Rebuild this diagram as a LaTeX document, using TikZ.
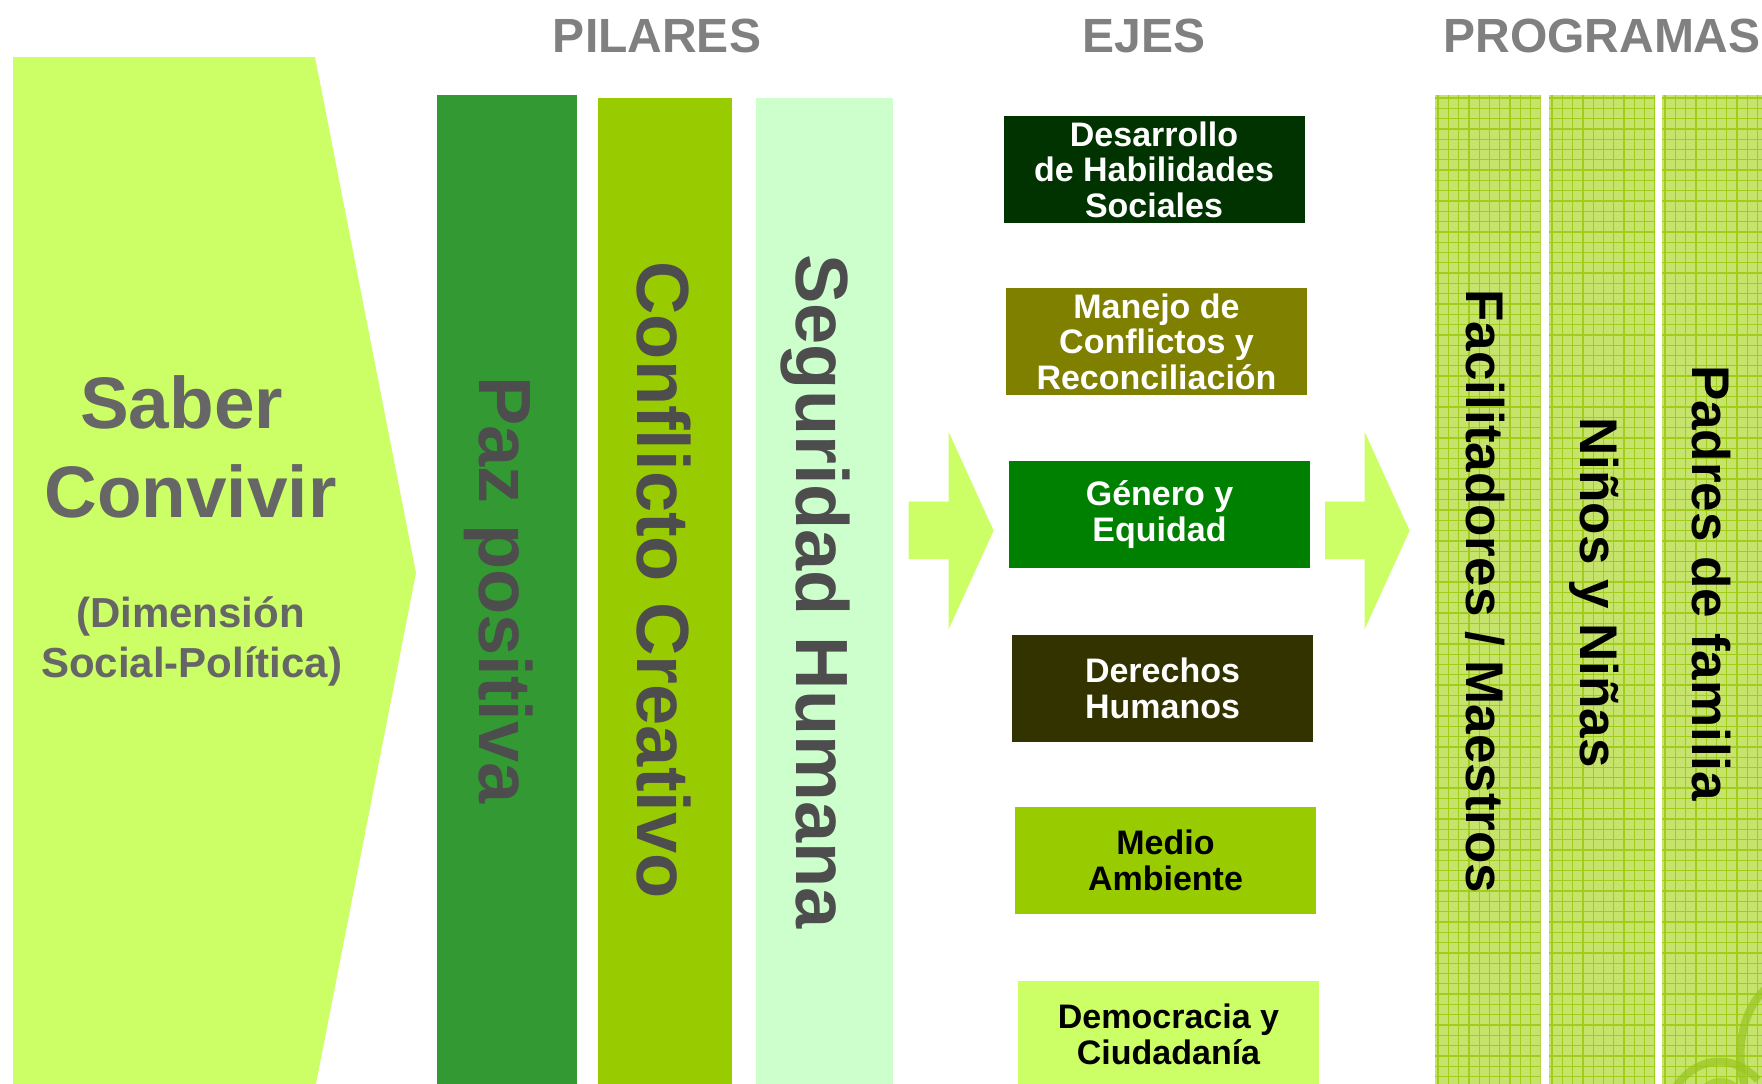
\documentclass[tikz,border=0pt]{standalone}
\usepackage{fontspec}
\setmainfont{Liberation Sans}
\definecolor{chev}{HTML}{CCFF66}
\definecolor{paz}{HTML}{339933}
\definecolor{conf}{HTML}{99CC00}
\definecolor{segu}{HTML}{CCFFCC}
\definecolor{pilgray}{HTML}{4D4D4D}
\definecolor{sabgray}{HTML}{666666}
\definecolor{hdgray}{HTML}{808080}
\definecolor{ejA}{HTML}{003300}
\definecolor{ejB}{HTML}{808000}
\definecolor{ejC}{HTML}{008000}
\definecolor{ejD}{HTML}{333300}
\definecolor{ejE}{HTML}{99CC00}
\definecolor{ejF}{HTML}{CCFF66}
\definecolor{progbg}{HTML}{C6E46C}
\definecolor{progline}{HTML}{A2CC1C}
\definecolor{swirl}{HTML}{98C41E}
\begin{document}
\begin{tikzpicture}[x=1pt,y=-1pt,
  header/.style={anchor=base,text=hdgray,font=\fontsize{48}{50}\selectfont\bfseries,inner sep=0},
  pillartext/.style={rotate=-90,anchor=base,text=pilgray,font=\fontsize{74}{80}\selectfont\bfseries,inner sep=0},
  progtext/.style={rotate=-90,anchor=base,text=black,font=\fontsize{53}{58}\selectfont\bfseries,inner sep=0},
  sabtext/.style={anchor=base,text=sabgray,inner sep=0},
  eje/.style={rectangle,minimum width=301,minimum height=107,inner sep=0,align=center,
    font=\fontsize{34}{35.5}\selectfont\bfseries},
  blockarrow/.style={fill=chev},
  gridline/.style={draw=progline,line width=1.3pt}]
\useasboundingbox (0,0) rectangle (1762,1084);
\clip (0,0) rectangle (1762,1084);

% big chevron
\fill[chev] (13,57) -- (315,57) -- (416,573) -- (314,1094) -- (13,1094) -- cycle;
\node[sabtext,font=\fontsize{73}{88}\selectfont\bfseries] (saber) at (181.7,428) {Saber};
\node[sabtext,font=\fontsize{73}{88}\selectfont\bfseries] (convivir) at (190.5,517) {Convivir};
\node[sabtext,font=\fontsize{42}{50}\selectfont\bfseries] (dim) at (190.5,627) {(Dimensión};
\node[sabtext,font=\fontsize{42}{50}\selectfont\bfseries] (socpol) at (191.7,677) {Social-Política)};

% headers
\node[header] (hpil) at (657,52) {PILARES};
\node[header] (heje) at (1144,52) {EJES};
\node[header] (hprog) at (1602,52) {PROGRAMAS};

% pillars
\fill[paz] (437,95) rectangle (577,1094);
\fill[conf] (598,98) rectangle (732,1094);
\fill[segu] (756,98) rectangle (893,1094);
\node[pillartext] (pazt) at (479,590) {Paz positiva};
\node[pillartext] (conft) at (637,580) {Conflicto Creativo};
\node[pillartext] (segt) at (796,591.5) {Seguridad Humana};

% block arrows
\fill[blockarrow] (908.6,501.7) -- (948.6,501.7) -- (948.6,431.7) -- (993.6,530.7)
  -- (948.6,629.3) -- (948.6,559) -- (908.6,559) -- cycle;
\fill[blockarrow] (1325,501.7) -- (1364.6,501.7) -- (1364.6,431.7) -- (1409.6,530.7)
  -- (1364.6,629.3) -- (1364.6,559) -- (1325,559) -- cycle;

% ejes
\node[eje,fill=ejA,text=white] (e1) at (1154,169.5) {Desarrollo\\de Habilidades\\Sociales};
\node[eje,fill=ejB,text=white] (e2) at (1156.5,341.5) {Manejo de\\Conflictos y\\Reconciliación};
\node[eje,fill=ejC,text=white] (e3) at (1159.5,514.7) {Género y\\Equidad};
\node[eje,fill=ejD,text=white] (e4) at (1162.5,688.5) {Derechos\\Humanos};
\node[eje,fill=ejE,text=black] (e5) at (1165.5,860.5) {Medio\\Ambiente};
\node[eje,fill=ejF,text=black] (e6) at (1168.5,1034.5) {Democracia y\\Ciudadanía};

% programas columns with grid pattern
\foreach \xa/\xb in {1435/1540.7,1549/1655,1662/1770} {
  \begin{scope}
    \clip (\xa,95) rectangle (\xb,1094);
    \fill[progbg] (\xa,95) rectangle (\xb,1094);
    \foreach \i in {0,...,11} \draw[gridline] (\xa+3+\i*10.3,95) -- (\xa+3+\i*10.3,1094);
    \foreach \j in {0,...,97} \draw[gridline] (\xa,98+\j*10.3) -- (\xb,98+\j*10.3);
  \end{scope}
}
\begin{scope}
  \clip (1662,95) rectangle (1770,1094);
  \draw[swirl,line width=8pt,opacity=0.7] (1770,985) .. controls (1738,1010) and (1735,1060) .. (1747,1094);
  \draw[swirl,line width=8pt,opacity=0.7] (1672,1094) .. controls (1690,1058) and (1730,1050) .. (1758,1080);
  \draw[swirl,line width=7pt,opacity=0.6] (1700,1094) .. controls (1710,1078) and (1728,1076) .. (1742,1094);
\end{scope}
\node[progtext] (fac) at (1466,591.5) {Facilitadores / Maestros};
\node[progtext] (nin) at (1580,592.5) {Niños y Niñas};
\node[progtext] (pad) at (1692,583) {Padres de familia};
\end{tikzpicture}
\end{document}
